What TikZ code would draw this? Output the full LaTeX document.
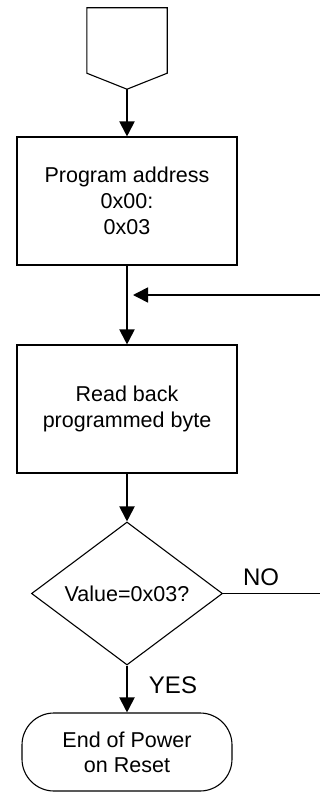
\documentclass[tikz,border=0pt]{standalone}
\usepackage{fontspec}
\setmainfont{Liberation Sans}
\usetikzlibrary{arrows.meta,shapes.geometric,calc}
\tikzset{
  box/.style={draw=black, line width=1.1pt, minimum width=220pt, minimum height=128pt, inner sep=0pt, align=center, font=\fontsize{21.5}{26}\selectfont},
  decision/.style={draw=black, line width=1.1pt, diamond, minimum width=191pt, minimum height=143pt, inner sep=0pt, font=\fontsize{21.5}{26}\selectfont},
  terminal/.style={draw=black, line width=1.1pt, rectangle, rounded corners=32pt, minimum width=210pt, minimum height=78pt, inner sep=0pt, align=center, font=\fontsize{21.5}{25}\selectfont},
  flow/.style={line width=2pt, -{Triangle[length=15pt,width=15pt]}},
  loopline/.style={line width=1.6pt},
  lbl/.style={font=\fontsize{24}{28}\selectfont, inner sep=0pt}
}
\begin{document}
\begin{tikzpicture}[x=1pt,y=-1pt]
\fill[white] (0,0) rectangle (320,792);
\useasboundingbox (0,0) rectangle (320,792);
% off-page connector
\node[minimum width=80pt, minimum height=81pt, inner sep=0pt] (start) at (127,48.5) {};
\draw[line width=1.1pt] (start.north west) -- (start.north east) -- ($(start.south east)+(0,-16)$) -- (start.south) -- ($(start.south west)+(0,-16)$) -- cycle;
\node[box] (prog) at (127,201) {Program address\\0x00:\\0x03};
\node[box] (read) at (127,409) {Read back\\programmed byte};
\node[decision] (dec) at (127,593.5) {Value=0x03?};
\node[terminal] (end) at (127,752) {End of Power\\on Reset};
\coordinate (join) at (127,295);
\coordinate (loopR) at (320,295);
\coordinate (noR) at (320,593.5);
\draw[flow] (start.south) -- (prog.north);
\draw[flow] (prog.south) -- (read.north);
\draw[flow] (read.south) -- (dec.north);
\draw[flow] (dec.south) -- (end.north);
\draw[loopline, -{Triangle[length=15pt,width=15pt]}] (loopR) -- ($(join)+(6,0)$);
\draw[loopline] (dec.east) -- (noR);
\node[lbl] (no) at (261,577) {NO};
\node[lbl] (yes) at (173,685) {YES};
\end{tikzpicture}
\end{document}
